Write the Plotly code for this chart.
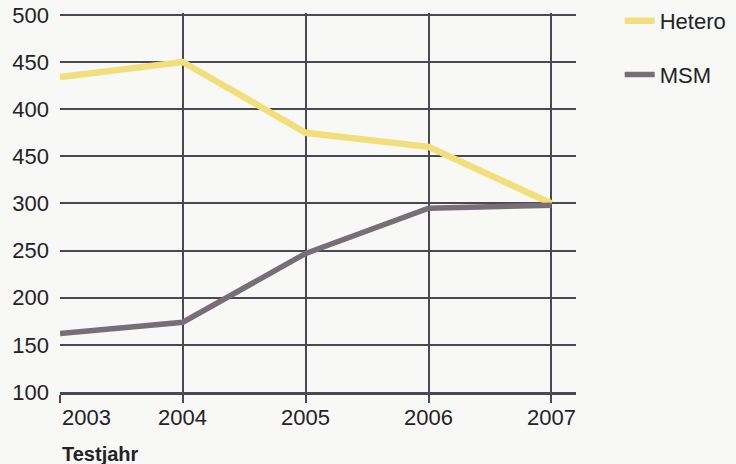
import plotly.graph_objects as go

years = [2003, 2004, 2005, 2006, 2007]
hetero = [434, 450, 375, 360, 300]
msm = [162, 174, 247, 295, 298]
y_tickvals = [100, 150, 200, 250, 300, 350, 400, 450, 500]
y_ticktext = ["100", "150", "200", "250", "300", "450", "400", "450", "500"]
x_ticktext = ["2003", "2004", "2005", "2006", "2007"]

FONT = "Liberation Sans, Arial, sans-serif"
TXT = "#242326"
GRID = "#4a4850"

fig = go.Figure()
fig.add_trace(go.Scatter(x=years, y=hetero, mode="lines", name="Hetero",
                         legendgroup="a",
                         line=dict(color="#f2df7c", width=6.5)))
fig.add_trace(go.Scatter(x=years, y=msm, mode="lines", name="MSM",
                         legendgroup="b",
                         line=dict(color="#786e78", width=5.5)))

# x tick labels as annotations (first label is left-aligned in the original)
for i, (yr, t) in enumerate(zip(years, x_ticktext)):
    fig.add_annotation(x=yr, y=0, xref="x", yref="paper", yanchor="middle",
                       xanchor="left" if i == 0 else "center",
                       yshift=-25, text=t, showarrow=False,
                       font=dict(family=FONT, size=22, color=TXT))

fig.add_annotation(x=0, y=0, xref="paper", yref="paper", xanchor="left",
                   yanchor="middle", yshift=-62, text="<b>Testjahr</b>",
                   showarrow=False, font=dict(family=FONT, size=20, color=TXT))

fig.update_layout(
    width=736, height=464,
    margin=dict(l=60, r=160, t=13, b=72),
    paper_bgcolor="#f8f8f7", plot_bgcolor="#f8f8f7",
    font=dict(family=FONT, size=22, color=TXT),
    showlegend=True,
    legend=dict(xref="container", yref="container", x=0.842, y=1.0,
                xanchor="left", yanchor="top", bgcolor="rgba(0,0,0,0)",
                tracegroupgap=22, font=dict(family=FONT, size=22, color=TXT)),
    xaxis=dict(range=[2003, 2007.2], tickvals=years, showticklabels=False,
               showgrid=True, gridcolor=GRID, gridwidth=2,
               ticks="outside", ticklen=8, tickwidth=2, tickcolor=GRID,
               zeroline=False, showline=True, linecolor=GRID, linewidth=2.5,
               automargin=False, fixedrange=True),
    yaxis=dict(range=[100, 502], tickvals=y_tickvals, ticktext=y_ticktext,
               showgrid=True, gridcolor=GRID, gridwidth=2, zeroline=False,
               showline=False, ticks="", ticklabelstandoff=10,
               tickfont=dict(family=FONT, size=22, color=TXT),
               automargin=False, fixedrange=True),
)

fig.write_html(
    "out.html",
    config={"displayModeBar": False},
    post_script="document.body.style.margin='0';document.body.style.overflow='hidden';",
)
